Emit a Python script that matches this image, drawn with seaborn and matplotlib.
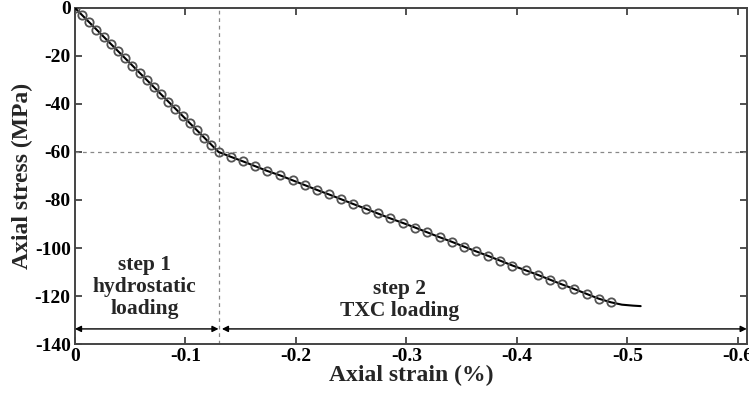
import numpy as np
import pandas as pd
import matplotlib.pyplot as plt
import seaborn as sns

sns.set_theme(style="ticks")
plt.rcParams['font.family'] = ['Liberation Serif', 'DejaVu Serif']
plt.rcParams['font.weight'] = 'bold'
plt.rcParams['axes.unicode_minus'] = False

# marked points
strain_marked = [0, -0.0065, -0.013, -0.0195, -0.026, -0.0325, -0.039, -0.0455, -0.052, -0.0585,
                 -0.065, -0.0715, -0.078, -0.0845, -0.091, -0.0975, -0.104, -0.1105, -0.117, -0.1235,
                 -0.130, -0.141, -0.152, -0.163, -0.174, -0.186, -0.197, -0.208, -0.219, -0.230,
                 -0.241, -0.252, -0.263, -0.274, -0.285, -0.297, -0.308, -0.319, -0.330, -0.341,
                 -0.352, -0.363, -0.374, -0.385, -0.396, -0.408, -0.419, -0.430, -0.441, -0.452,
                 -0.463, -0.474, -0.485]
stress_marked = [0, -3, -6, -9, -12, -15, -18, -21, -24, -27,
                 -30, -33, -36, -39, -42, -45, -48, -51, -54, -57,
                 -60.0, -62.0, -63.9, -65.9, -67.9, -69.8, -71.8, -73.8, -75.8, -77.7,
                 -79.7, -81.7, -83.6, -85.6, -87.6, -89.6, -91.5, -93.5, -95.5, -97.4,
                 -99.4, -101.4, -103.3, -105.3, -107.3, -109.3, -111.2, -113.2, -115.2, -117.1,
                 -119.1, -121.1, -122.6]
# unmarked tail of the curve
strain_tail = [-0.495, -0.505, -0.512]
stress_tail = [-123.6, -124.0, -124.2]

step_strain = -0.13
step_stress = -60
arrow_y = -133.7

df_line = pd.DataFrame({"strain": strain_marked + strain_tail, "stress": stress_marked + stress_tail})
df_mark = pd.DataFrame({"strain": strain_marked, "stress": stress_marked})

fig, ax = plt.subplots(figsize=(7.49, 3.95), dpi=100)
fig.subplots_adjust(left=0.100, right=0.997, top=0.980, bottom=0.129)

ax.axvline(step_strain, color='#888888', ls='--', lw=0.9, dashes=(3, 3), zorder=1)
ax.axhline(step_stress, color='#888888', ls='--', lw=0.9, dashes=(3, 3), zorder=1)

sns.lineplot(data=df_line, x="strain", y="stress", color='black', lw=1.5, ax=ax, sort=False, zorder=3)
ax.plot(df_mark["strain"], df_mark["stress"], ls='none', marker='o', ms=6,
        mfc='none', mec='#555555', mew=1.3, zorder=4)

ax.annotate('', xy=(0, arrow_y), xytext=(step_strain, arrow_y),
            arrowprops=dict(arrowstyle='<|-|>', color='black', lw=1.0, mutation_scale=9,
                            shrinkA=0, shrinkB=0))
ax.annotate('', xy=(-0.133, arrow_y), xytext=(-0.608, arrow_y),
            arrowprops=dict(arrowstyle='<|-|>', color='black', lw=1.0, mutation_scale=9,
                            shrinkA=0, shrinkB=0))

ax.text(-0.063, -116.3, "step 1\nhydrostatic\nloading", ha='center', va='center',
        fontsize=15.5, fontweight='bold', linespacing=1.15)
ax.text(-0.294, -121.7, "step 2\nTXC loading", ha='center', va='center',
        fontsize=15.5, fontweight='bold', linespacing=1.15)

ax.set_xlim(0, -0.608)
ax.set_ylim(-140, 0)
ax.set_xticks([0, -0.1, -0.2, -0.3, -0.4, -0.5, -0.6])
ax.set_xticklabels(["0", "-0.1", "-0.2", "-0.3", "-0.4", "-0.5", "-0.6"])
ax.set_yticks([0, -20, -40, -60, -80, -100, -120, -140])
ax.tick_params(direction='in', top=True, right=True, labelsize=14, length=5, width=1.2,
               colors='#333333', labelcolor='black', pad=3)
for lbl in ax.get_xticklabels() + ax.get_yticklabels():
    lbl.set_fontweight('bold')
for s in ax.spines.values():
    s.set_color('#444444')
    s.set_linewidth(1.4)

ax.set_xlabel("Axial strain (%)", fontsize=17, fontweight='bold', labelpad=0)
ax.set_ylabel("Axial stress (MPa)", fontsize=17, fontweight='bold', labelpad=1)

plt.savefig("out.png", dpi=100)
